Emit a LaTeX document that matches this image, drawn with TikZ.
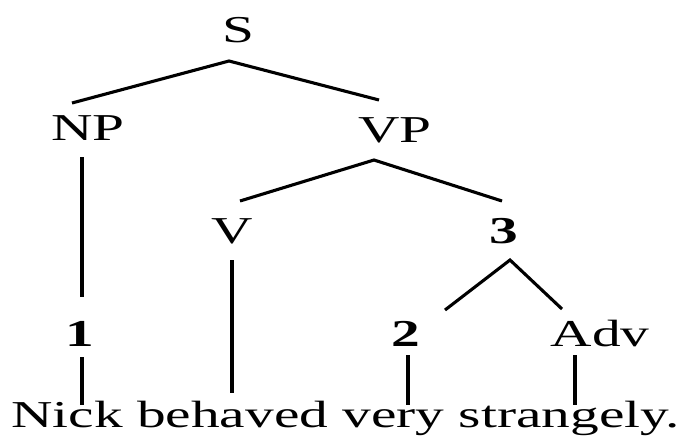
\documentclass[tikz,border=0pt]{standalone}
\usepackage{fontspec}
\setmainfont{Liberation Serif}
\newcommand{\wide}[1]{\scalebox{1.51}[1]{#1}}
\tikzset{
  lab/.style={inner sep=0pt, anchor=base, font=\fontsize{38}{40}\selectfont},
  branch/.style={line width=3.1pt}
}
\begin{document}
\begin{tikzpicture}[x=1pt,y=-1pt]
\useasboundingbox (0,0) rectangle (684,437);
% labels
\node[lab] (S)   at (238,42)  {\wide{S}};
\node[lab] (NP)  at (88,140)  {\wide{NP}};
\node[lab] (VP)  at (395,142) {\wide{VP}};
\node[lab] (V)   at (232,243) {\wide{V}};
\node[lab] (n3)  at (504,243) {\wide{\bfseries 3}};
\node[lab] (n1)  at (80,346)  {\wide{\bfseries 1}};
\node[lab] (n2)  at (406,346) {\wide{\bfseries 2}};
\node[lab] (Adv) at (600,346) {\wide{Adv}};
\node[lab, anchor=base west] (sent) at (11,427) {\wide{Nick behaved very strangely.}};
% connector ends
\coordinate (S-b)   at (229,61);
\coordinate (NP-t)  at (72,103);
\coordinate (VP-t)  at (379,100);
\coordinate (NP-b)  at (82,157);
\coordinate (n1-t)  at (82,297);
\coordinate (VP-b)  at (374,160);
\coordinate (V-t)   at (240,201);
\coordinate (n3-t)  at (502,201);
\coordinate (V-b)   at (232,260);
\coordinate (behaved) at (232,393);
\coordinate (n3-b)  at (510,260);
\coordinate (n2-t)  at (445,310);
\coordinate (Adv-t) at (562,309);
\coordinate (n1-b)  at (82,357);
\coordinate (Nick)  at (82,405);
\coordinate (n2-b)  at (408,355);
\coordinate (very)  at (408,405);
\coordinate (Adv-b) at (575,355);
\coordinate (strangely) at (575,405);
% branches
\draw[branch] (NP-t) -- (S-b) -- (VP-t);
\draw[branch] (NP-b) -- (n1-t);
\draw[branch] (V-t) -- (VP-b) -- (n3-t);
\draw[branch] (V-b) -- (behaved);
\draw[branch] (n2-t) -- (n3-b) -- (Adv-t);
\draw[branch] (n1-b) -- (Nick);
\draw[branch] (n2-b) -- (very);
\draw[branch] (Adv-b) -- (strangely);
\end{tikzpicture}
\end{document}
